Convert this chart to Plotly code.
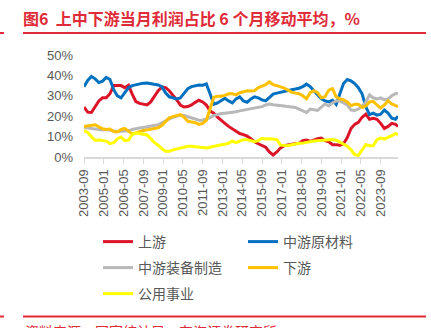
import pandas as pd
import plotly.graph_objects as go

# Sampling dates (quarterly readings, plus the latest month)
dates = list(pd.date_range("2003-09-01", "2024-09-01", freq="3MS").strftime("%Y-%m-%d")) + ["2024-11-01"]

# 6-month moving average of monthly profit share, %
upstream = [24.5, 22.0, 21.8, 24.5, 27.5, 29.0, 29.0, 31.0, 35.0, 35.0,
            35.0, 34.0, 35.2, 30.8, 27.2, 26.3, 25.8, 25.5, 27.0, 30.0,
            32.5, 34.3, 34.0, 32.5, 30.5, 28.0, 25.5, 24.5, 24.7, 25.5,
            26.8, 27.8, 27.0, 25.5, 22.5, 21.5, 19.5, 17.8, 16.5, 15.0,
            13.8, 12.3, 11.5, 11.0, 10.2, 9.0, 7.5, 6.5, 5.8, 4.8,
            2.5, 1.0, 2.5, 4.5, 5.5, 6.0, 6.2, 6.5, 6.8, 8.0,
            8.3, 7.7, 8.5, 9.0, 9.3, 8.0, 7.5, 6.0, 6.0, 5.8,
            6.5, 9.5, 14.0, 16.0, 17.0, 19.5, 21.0, 18.5, 19.0, 18.5,
            16.5, 14.0, 15.0, 16.5, 16.0,
            15.0]
mid_raw = [34.5, 37.5, 39.5, 38.3, 36.5, 37.2, 39.0, 38.0, 33.0, 30.0,
           29.0, 31.5, 34.0, 35.0, 35.5, 35.8, 36.2, 36.3, 36.0, 35.5,
           35.3, 34.5, 31.5, 29.5, 28.8, 28.5, 29.0, 31.0, 33.5, 34.5,
           35.0, 35.3, 35.2, 35.8, 31.0, 25.8, 26.5, 27.5, 28.8, 27.5,
           26.5, 28.5, 29.5, 27.5, 26.8, 28.5, 29.5, 29.0, 28.0, 27.5,
           29.0, 30.8, 31.3, 31.8, 32.0, 32.5, 33.0, 33.3, 33.7, 34.5,
           35.7, 34.5, 32.5, 30.8, 28.5, 27.5, 27.0, 27.8, 25.8, 31.0,
           36.0, 38.0, 37.3, 36.0, 34.0, 31.0, 24.5, 20.8, 21.5, 20.5,
           21.0, 23.0, 21.5, 19.0, 18.5,
           20.0]
mid_equip = [14.5, 14.3, 14.0, 13.8, 13.5, 13.3, 13.5, 13.0, 12.8, 12.5,
             12.5, 12.5, 12.8, 13.5, 14.0, 14.2, 14.5, 14.8, 15.0, 15.3,
             15.8, 16.8, 17.8, 18.8, 19.5, 20.0, 20.5, 20.3, 19.8, 19.0,
             18.5, 18.0, 18.0, 18.5, 19.3, 20.3, 21.0, 21.3, 21.5, 21.7,
             21.8, 22.2, 22.6, 23.0, 23.3, 23.6, 24.0, 24.3, 24.7, 25.5,
             26.0, 25.6, 25.5, 25.3, 25.0, 24.7, 24.5, 24.3, 23.5, 22.5,
             21.8, 23.5, 23.0, 22.8, 24.5, 26.0, 25.0, 26.5, 27.5, 27.5,
             26.5, 25.5, 23.0, 22.8, 23.5, 25.0, 27.0, 30.5, 29.0, 28.5,
             29.0, 28.0, 28.5, 30.0, 31.0,
             31.3]
downstream = [15.0, 15.2, 15.5, 15.8, 14.8, 13.8, 13.5, 13.7, 12.5, 12.3,
              13.5, 14.0, 12.7, 11.3, 11.8, 12.5, 13.0, 13.3, 13.6, 14.0,
              14.3, 15.5, 17.5, 19.2, 19.8, 20.3, 20.8, 19.5, 17.5, 17.2,
              16.8, 16.0, 16.5, 18.0, 23.5, 29.3, 29.8, 29.8, 30.2, 31.0,
              31.0, 30.5, 31.5, 32.0, 32.5, 32.3, 32.5, 34.0, 34.8, 35.5,
              36.8, 35.5, 35.0, 34.5, 33.8, 32.8, 31.8, 31.3, 31.0, 30.0,
              28.5, 31.5, 32.5, 31.5, 29.0, 29.5, 32.8, 33.5, 29.5, 28.5,
              28.0, 27.0, 25.2, 25.8, 25.8, 24.3, 25.0, 27.0, 27.3, 25.5,
              24.0, 25.5, 27.5, 26.0, 25.0,
              24.7]
utilities = [13.0, 12.0, 10.0, 8.2, 8.3, 8.2, 7.8, 6.5, 7.0, 9.0,
             9.8, 8.0, 8.3, 11.0, 11.7, 11.5, 11.2, 10.8, 9.0, 7.0,
             5.8, 4.0, 2.8, 2.8, 3.5, 4.0, 4.5, 5.0, 5.3, 5.3,
             5.0, 4.8, 4.6, 4.4, 4.8, 5.2, 5.8, 6.0, 6.2, 6.8,
             7.8, 7.0, 7.8, 8.5, 8.5, 8.0, 7.5, 8.0, 9.2, 8.8,
             9.0, 8.8, 8.5, 5.8, 5.5, 5.5, 6.0, 6.5, 6.7, 6.8,
             7.2, 7.5, 7.8, 8.0, 8.2, 8.3, 8.5, 8.6, 8.2, 7.3,
             6.5, 5.3, 3.5, 1.2, 0.8, 3.5, 6.0, 5.5, 5.5, 8.5,
             9.3, 8.8, 9.5, 10.5, 11.5,
             11.0]

x_tick_labels = ["2003-09", "2005-01", "2006-05", "2007-09", "2009-01", "2010-05",
                 "2011-09", "2013-01", "2014-05", "2015-09", "2017-01", "2018-05",
                 "2019-09", "2021-01", "2022-05", "2023-09"]
y_tick_values = [0, 10, 20, 30, 40, 50]
y_tick_labels = ["0%", "10%", "20%", "30%", "40%", "50%"]

series = [
    ("上游", upstream, "#DC1428", "legend"),
    ("中游原材料", mid_raw, "#0070C0", "legend"),
    ("中游装备制造", mid_equip, "#B8B8B8", "legend2"),
    ("下游", downstream, "#FFC000", "legend2"),
    ("公用事业", utilities, "#FFFF00", "legend3"),
]

W, H = 431, 328
ML, MR, MT, MB = 84, 33, 55, 171
PW, PH = W - ML - MR, H - MT - MB


def px_x(X):
    return (X - ML) / PW


def px_y(Y):
    return (MT + PH - Y) / PH


RED = "#E02B38"
GREY_TEXT = "#595959"
FONT = "Liberation Sans, Noto Sans CJK SC, sans-serif"
CJK = "Noto Sans CJK SC, sans-serif"

fig = go.Figure()
for name, vals, color, lg in series:
    fig.add_trace(go.Scatter(
        x=dates, y=vals, name=name, mode="lines",
        line=dict(color=color, width=3), legend=lg,
    ))

legend_common = dict(
    orientation="h", xref="paper", yref="paper", xanchor="left", yanchor="middle",
    font=dict(family=CJK, size=14, color=GREY_TEXT),
    entrywidth=100, entrywidthmode="pixels", bgcolor="rgba(0,0,0,0)",
    itemclick=False,
)

fig.update_layout(
    width=W, height=H,
    margin=dict(l=ML, r=MR, t=MT, b=MB),
    paper_bgcolor="white", plot_bgcolor="white",
    font=dict(family=FONT, color=GREY_TEXT),
    title=dict(
        text="图6  上中下游当月利润占比 6 个月移动平均，%",
        font=dict(family=CJK, size=16, color=RED, weight="bold"),
        xref="container", yref="container",
        x=23 / W, xanchor="left", y=1 - 19.5 / H, yanchor="middle",
    ),
    legend=dict(legend_common, x=px_x(98), y=px_y(242)),
    legend2=dict(legend_common, x=px_x(98), y=px_y(268)),
    legend3=dict(legend_common, x=px_x(98), y=px_y(294)),
)

fig.update_xaxes(
    type="date", range=["2003-09-01", "2024-11-01"], autorange=False,
    tickmode="array", tickvals=[t + "-01" for t in x_tick_labels], ticktext=x_tick_labels,
    tickangle=-90, tickfont=dict(family=FONT, size=13, color=GREY_TEXT),
    showgrid=False, showline=True, linecolor="#D9D9D9", linewidth=2,
    ticks="outside", ticklen=5, tickcolor="#D9D9D9", tickwidth=1,
    zeroline=False,
)
fig.update_yaxes(
    range=[0, 50], autorange=False,
    tickmode="array", tickvals=y_tick_values, ticktext=y_tick_labels,
    tickfont=dict(family=FONT, size=13, color=GREY_TEXT),
    showgrid=False, showline=False, zeroline=False, ticks="",
    ticklabelstandoff=10,
)

# Header and footer rules
for Y in (33, 316.5):
    fig.add_shape(type="line", xref="paper", yref="paper",
                  x0=px_x(23), x1=px_x(426), y0=px_y(Y), y1=px_y(Y),
                  line=dict(color=RED, width=2))
    fig.add_shape(type="line", xref="paper", yref="paper",
                  x0=px_x(0), x1=px_x(4), y0=px_y(Y), y1=px_y(Y),
                  line=dict(color=RED, width=2))

fig.add_annotation(
    text="资料来源：国家统计局，东海证券研究所",
    xref="paper", yref="paper", x=px_x(23), y=px_y(331),
    xanchor="left", yanchor="middle", showarrow=False,
    font=dict(family=CJK, size=14, color=RED),
)

fig.write_html("out.html")
